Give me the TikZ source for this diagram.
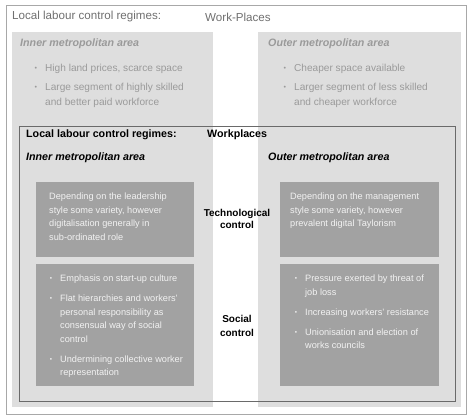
\documentclass[tikz,border=0pt]{standalone}
\usepackage{fontspec}
\setmainfont{Liberation Sans}
\usetikzlibrary{positioning}
\definecolor{FrameGrey}{HTML}{A8A8A8}
\definecolor{PanelGrey}{HTML}{DEDEDE}
\definecolor{BoxGrey}{HTML}{A2A2A2}
\definecolor{LineDark}{HTML}{6A6A6A}
\definecolor{TitleGrey}{HTML}{707070}
\definecolor{FadeGrey}{HTML}{9A9A9A}
\definecolor{BoxText}{HTML}{F2F2F2}
\newcommand{\bul}{\llap{\raisebox{1pt}{\scalebox{0.7}{\textbullet}}\hspace{8pt}}}

\begin{document}
\begin{tikzpicture}[x=1pt, y=-1pt,
    panel/.style={fill=PanelGrey, anchor=north west, inner sep=0pt},
    darkbox/.style={fill=BoxGrey, anchor=north west, inner sep=0pt},
    boxtext/.style={anchor=north west, inner sep=0pt, align=left, text=BoxText,
        font=\fontsize{9.2}{13.5}\selectfont},
    fadetext/.style={anchor=north west, inner sep=0pt, align=left, text=FadeGrey,
        font=\fontsize{10.1}{15}\selectfont},
    head/.style={anchor=west, inner sep=0pt, font=\fontsize{10.7}{12}\selectfont\bfseries},
    area/.style={anchor=west, inner sep=0pt, font=\fontsize{10.7}{12}\selectfont\bfseries\itshape},
    rowlabel/.style={align=center, inner sep=0pt, font=\fontsize{10}{12}\selectfont\bfseries}
]
\useasboundingbox (0,0) rectangle (474,419);
\fill[white] (0,0) rectangle (474,419);

% Outer frame
\node[draw=FrameGrey, line width=0.8pt, anchor=north west, inner sep=0pt,
    minimum width=460pt, minimum height=409pt] (frame) at (6,5) {};

% Top level: work-places
\node[anchor=west, inner sep=0pt, text=TitleGrey, font=\fontsize{11.6}{13}\selectfont] (title) at (12,17) {Local labour control regimes:};
\node[anchor=west, inner sep=0pt, text=TitleGrey, font=\fontsize{11.6}{13}\selectfont] (titleright) at (205,17) {Work-Places};

\node[panel, minimum width=201pt, minimum height=375pt] (innerpanel) at (12,32) {};
\node[panel, minimum width=203pt, minimum height=375pt] (outerpanel) at (258,32) {};

\node[area, text=FadeGrey] (innerhead) at (20,44) {Inner metropolitan area};
\node[area, text=FadeGrey] (outerhead) at (268,44) {Outer metropolitan area};

\node[fadetext] (innerlist) at (45,63.5) {\bul High land prices, scarce space\\[4.5pt]
    \bul Large segment of highly skilled\\and better paid workforce};
\node[fadetext] (outerlist) at (294,63.5) {\bul Cheaper space available\\[4.5pt]
    \bul Larger segment of less skilled\\and cheaper workforce};

% Workplaces frame
\node[draw=LineDark, line width=0.5pt, anchor=north west, inner sep=0pt,
    minimum width=436pt, minimum height=275pt] (workframe) at (19,126) {};

\node[head] (subtitle) at (26,135) {Local labour control regimes:};
\node[head] (subtitleright) at (207,135) {Workplaces};
\node[area] (innerarea) at (26,158) {Inner metropolitan area};
\node[area] (outerarea) at (268,158) {Outer metropolitan area};

% Technological control
\node[darkbox, minimum width=158pt, minimum height=75pt] (innertech) at (36,182) {};
\node[darkbox, minimum width=159pt, minimum height=75pt] (outertech) at (280,182) {};
\node[boxtext] (innertechtext) at (49,193) {Depending on the leadership\\style some variety, however\\digitalisation generally in\\sub-ordinated role};
\node[boxtext] (outertechtext) at (290,193) {Depending on the management\\style some variety, however\\prevalent digital Taylorism};
\node[rowlabel] (techlabel) at (237,218.5) {Technological\\control};

% Social control
\node[darkbox, minimum width=158pt, minimum height=122pt] (innersocial) at (36,264) {};
\node[darkbox, minimum width=159pt, minimum height=122pt] (outersocial) at (280,264) {};
\node[boxtext] (innersocialtext) at (60,275) {\bul Emphasis on start-up culture\\[6.5pt]
    \bul Flat hierarchies and workers'\\personal responsibility as\\consensual way of social\\control\\[6.5pt]
    \bul Undermining collective worker\\representation};
\node[boxtext] (outersocialtext) at (305,275) {\bul Pressure exerted by threat of\\job loss\\[6.5pt]
    \bul Increasing workers' resistance\\[6.5pt]
    \bul Unionisation and election of\\works councils};
\node[rowlabel, font=\fontsize{10}{14}\selectfont\bfseries] (sociallabel) at (237,325.5) {Social\\control};
\end{tikzpicture}
\end{document}
